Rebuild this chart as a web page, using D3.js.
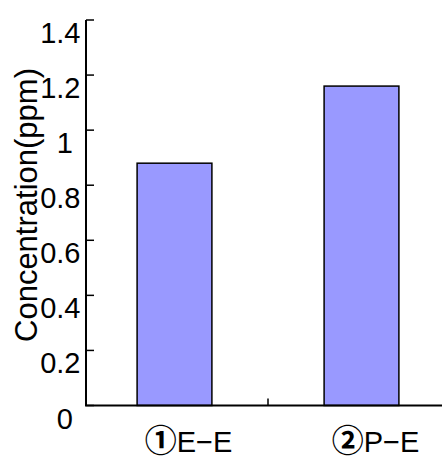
<!DOCTYPE html>
<html>
<head>
<meta charset="utf-8">
<script src="https://cdn.jsdelivr.net/npm/d3@7"></script>
<style>
  html, body { margin: 0; padding: 0; background: #fff; }
  svg { display: block; }
  text { font-family: "Liberation Sans", "Noto Sans CJK JP", sans-serif; fill: #000; }
</style>
</head>
<body>
<svg id="chart" width="442" height="457"></svg>
<script>
// Sample data
const categories = ["①E−E", "②P−E"];
const values = [0.88, 1.16];
const yTicks = [0, 0.2, 0.4, 0.6, 0.8, 1, 1.2, 1.4];
const yTickLabels = ["0", "0.2", "0.4", "0.6", "0.8", "1", "1.2", "1.4"];
const yTitle = "Concentration(ppm)";

const svg = d3.select("#chart");
const axisX = 86;      // position of the value axis
const baseY = 405.5;   // position of the category axis
const fontSize = 29;

const y = d3.scaleLinear().domain([0, 1.4]).range([baseY, 20]);
const x = d3.scaleBand().domain(categories).range([81, 455]).padding(0);

// bars
svg.append("g").selectAll("rect")
  .data(categories)
  .join("rect")
  .attr("x", d => x(d) + x.bandwidth() * 0.3)
  .attr("width", x.bandwidth() * 0.4)
  .attr("y", (d, i) => y(values[i]))
  .attr("height", (d, i) => baseY - y(values[i]))
  .attr("fill", "#9999ff")
  .attr("stroke", "#000")
  .attr("stroke-width", 1.5);

// value axis: line plus inward ticks
const yAxis = svg.append("g");
yAxis.append("line")
  .attr("x1", axisX).attr("x2", axisX)
  .attr("y1", y(1.4)).attr("y2", baseY)
  .attr("stroke", "#000").attr("stroke-width", 2);
yAxis.selectAll("line.tick")
  .data(yTicks)
  .join("line")
  .attr("class", "tick")
  .attr("x1", axisX).attr("x2", axisX + 8)
  .attr("y1", d => y(d)).attr("y2", d => y(d))
  .attr("stroke", "#000").attr("stroke-width", 1.5);
yAxis.selectAll("text")
  .data(yTicks)
  .join("text")
  .attr("x", d => Number.isInteger(d) ? 73 : 80.5)
  .attr("y", d => y(d) + 23)
  .attr("text-anchor", "end")
  .attr("font-size", fontSize)
  .text((d, i) => yTickLabels[i]);

// category axis: line plus a divider tick between categories
const xAxis = svg.append("g");
xAxis.append("line")
  .attr("x1", axisX - 1).attr("x2", 455)
  .attr("y1", baseY).attr("y2", baseY)
  .attr("stroke", "#000").attr("stroke-width", 2);
xAxis.append("line")
  .attr("x1", x(categories[1])).attr("x2", x(categories[1]))
  .attr("y1", baseY).attr("y2", baseY - 7)
  .attr("stroke", "#000").attr("stroke-width", 1.5);
const catLabels = xAxis.selectAll("text")
  .data(categories)
  .join("text")
  .attr("x", d => x(d) + x.bandwidth() / 2 + 14)
  .attr("y", 452)
  .attr("text-anchor", "middle")
  .attr("font-size", fontSize);
// circled number drawn in the CJK face, heavier and a little larger
catLabels.append("tspan")
  .style("font-family", "'Noto Sans CJK JP'")
  .attr("font-weight", "bold")
  .attr("font-size", 32)
  .text(d => d.slice(0, 1));
catLabels.append("tspan")
  .text(d => d.slice(1));

// axis title
svg.append("text")
  .attr("transform", "translate(37,205) rotate(-90)")
  .attr("text-anchor", "middle")
  .attr("font-size", 31)
  .text(yTitle);
</script>
</body>
</html>
